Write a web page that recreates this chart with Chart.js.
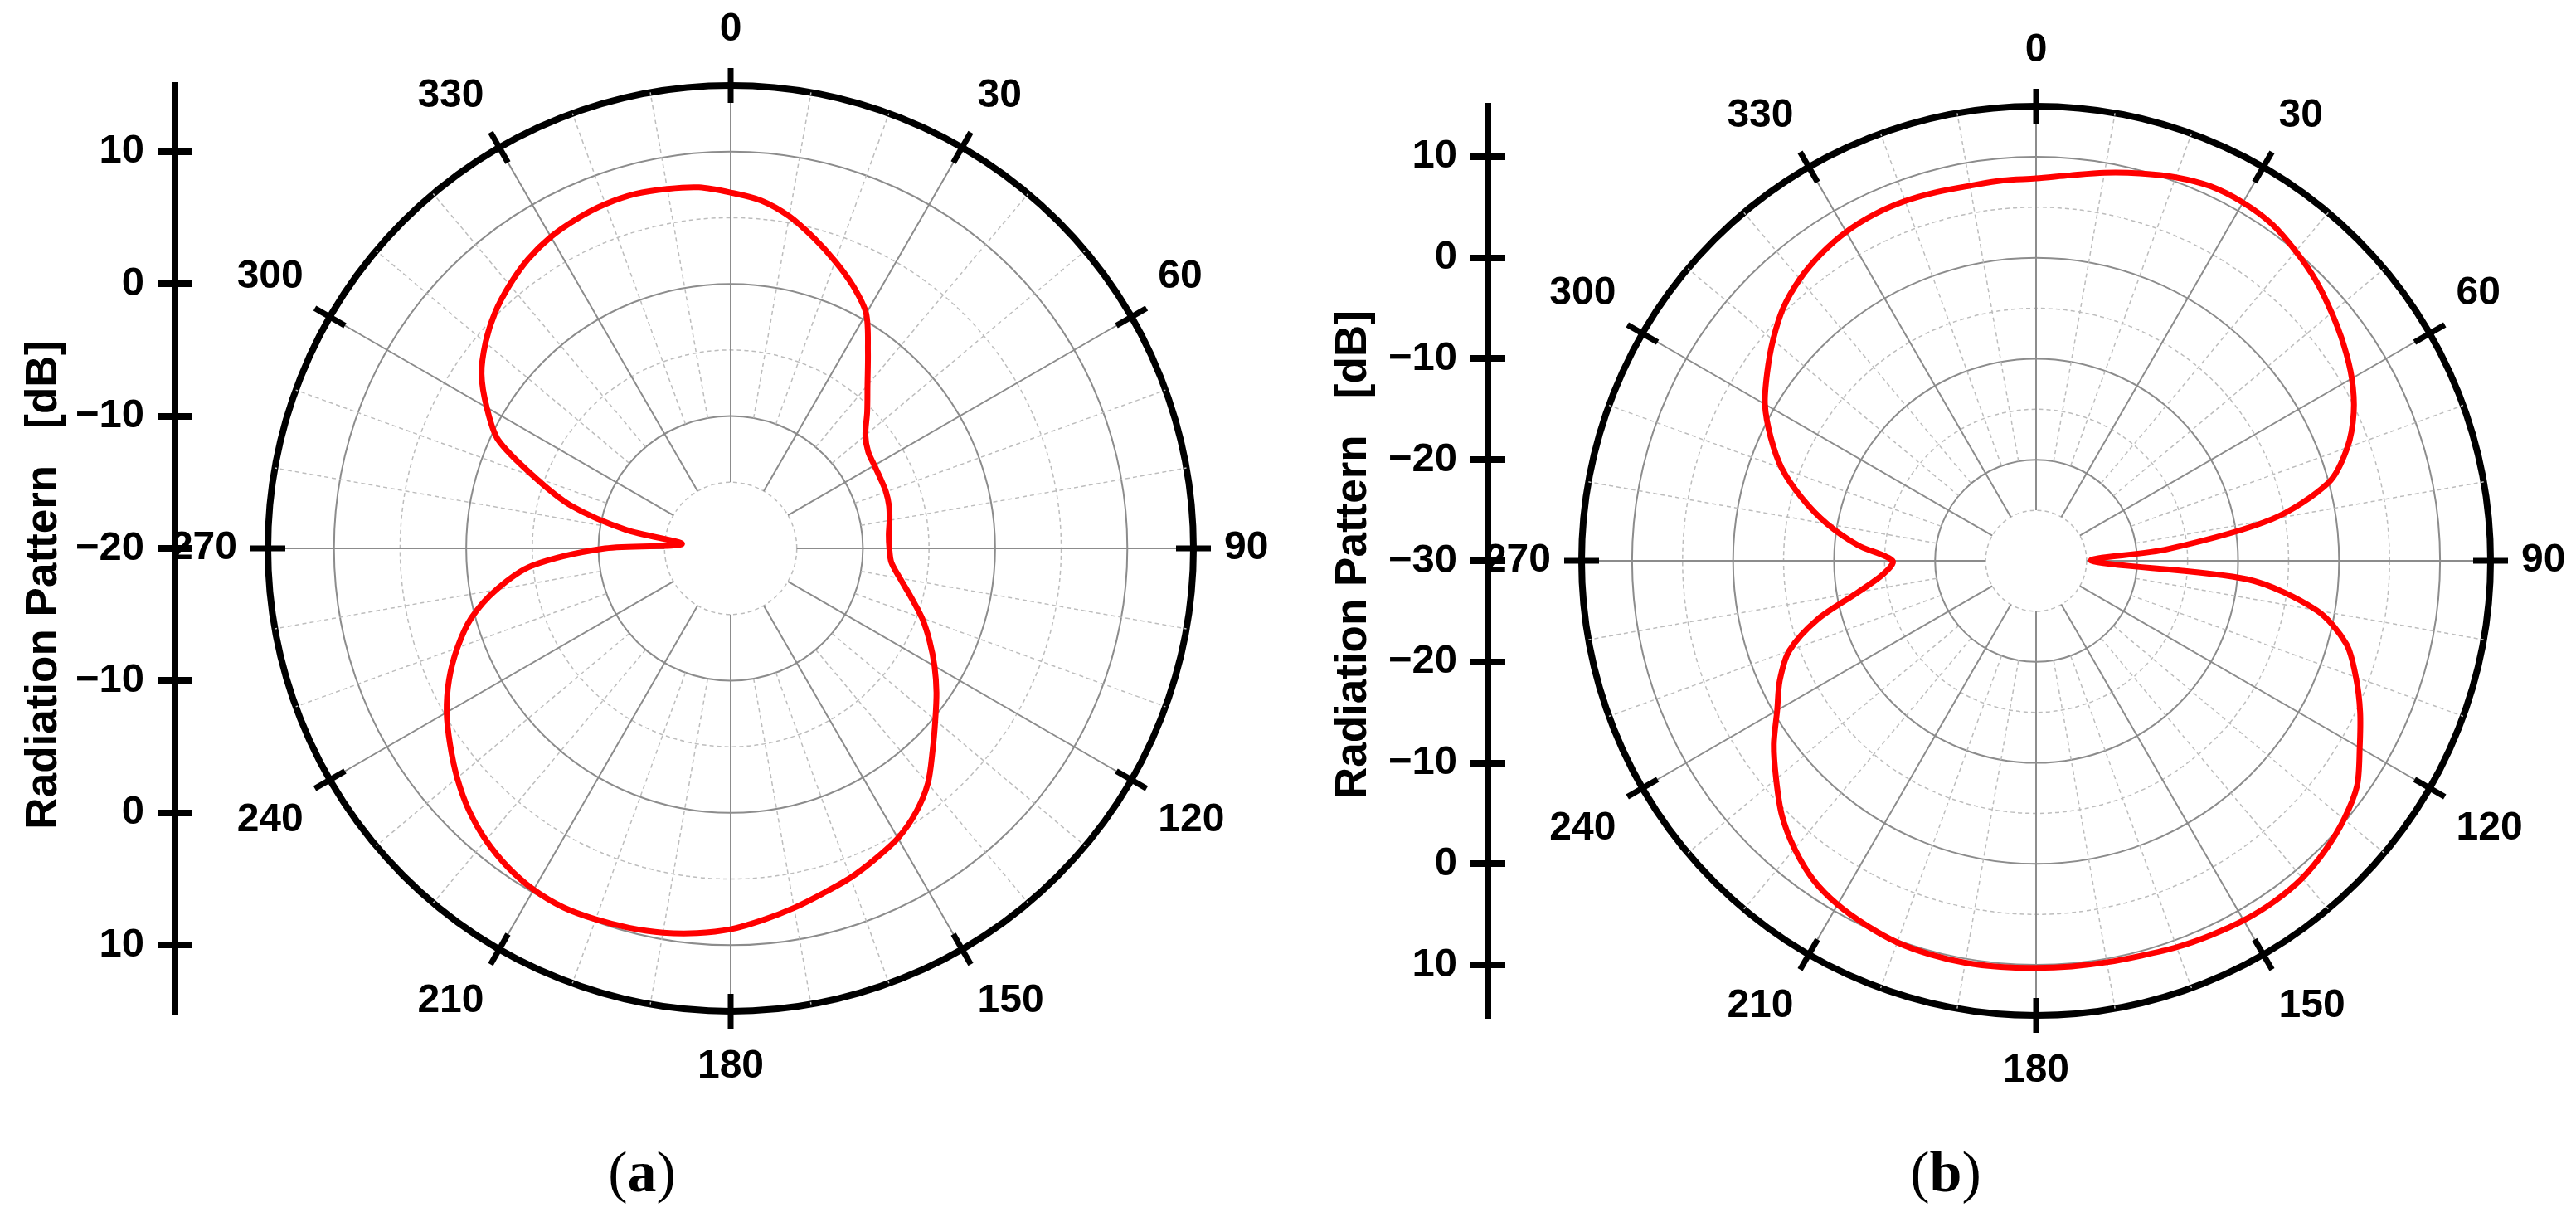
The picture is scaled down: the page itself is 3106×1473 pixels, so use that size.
<!DOCTYPE html>
<html>
<head>
<meta charset="utf-8">
<script src="https://cdn.jsdelivr.net/npm/chart.js@4.4.1/dist/chart.umd.min.js"></script>
<style>
  html, body { margin: 0; padding: 0; background: #fff; }
  body { width: 3106px; height: 1473px; position: relative; overflow: hidden; }
  canvas { position: absolute; }
  .cap { position: absolute; top: 1378px; width: 200px; text-align: center;
         font-family: 'Liberation Serif', 'Times New Roman', serif; font-size: 70px; line-height: 70px; }
</style>
</head>
<body>
<canvas id="axisA"></canvas>
<canvas id="polarA"></canvas>
<canvas id="axisB"></canvas>
<canvas id="polarB"></canvas>
<div class="cap" style="left:674px">(<b>a</b>)</div>
<div class="cap" style="left:2246px">(<b>b</b>)</div>
<script>
// angle of each sample, degrees clockwise from the top
const angles = [0, 5, 10, 15, 20, 25, 30, 35, 40, 45, 50, 55,
  60, 65, 70, 75, 80, 85, 90, 95, 100, 105, 110, 115,
  120, 125, 130, 135, 140, 145, 150, 155, 160, 165, 170, 175,
  180, 185, 190, 195, 200, 205, 210, 215, 220, 225, 230, 235,
  240, 245, 250, 255, 260, 265, 270, 275, 280, 285, 290, 295,
  300, 305, 310, 315, 320, 325, 330, 335, 340, 345, 350, 355];

// radiation pattern in dB, panel (a)
const patternA = [6.9, 6.4, 5.5, 4.3, 3.1, 1.9, 0.5, -1.9, -3.9, -5.4, -6.7, -7.3,
  -7.45, -7.5, -7.5, -7.6, -7.8, -8.0, -8.0, -7.8, -7.0, -5.9, -4.6, -3.4,
  -2.2, -1.0, 0.2, 1.6, 3.2, 4.4, 5.3, 5.9, 6.5, 7.0, 7.6, 8.2,
  8.8, 9.2, 9.5, 9.7, 9.85, 9.95, 9.8, 9.4, 8.8, 8.0, 7.0, 5.9,
  4.8, 3.5, 2.0, 0.3, -2.0, -4.9, -10.5, -16.3, -12.0, -7.5, -4.2, -0.6,
  1.3, 3.0, 4.2, 5.2, 6.0, 6.7, 7.2, 7.5, 7.7, 7.75, 7.6, 7.4];

// radiation pattern in dB, panel (b)
const patternB = [7.85, 8.3, 9.0, 9.7, 10.4, 10.9, 10.95, 10.7, 10.0, 9.2, 8.2, 7.2,
  6.1, 4.7, 2.8, 0.0, -6.3, -17.0, -24.5, -9.0, -1.8, 1.8, 3.7, 5.4,
  7.0, 8.8, 9.8, 10.5, 11.0, 11.15, 11.1, 10.9, 10.7, 10.45, 10.35, 10.3,
  10.3, 10.35, 10.4, 10.35, 10.2, 9.8, 9.3, 8.5, 7.2, 5.6, 3.6, 1.7,
  -0.4, -2.0, -4.0, -7.6, -12.1, -14.8, -15.8, -12.3, -9.0, -6.0, -3.2, -1.0,
  1.0, 2.5, 4.0, 5.4, 6.4, 7.1, 7.6, 7.85, 7.9, 7.8, 7.7, 7.8];

const angleTickLabels = ['0', '30', '60', '90', '120', '150', '180', '210', '240', '270', '300', '330'];

// the side axis is measured from the centre outwards in both directions
const axisTicksA = [-30, -20, -10, 0, 10, 20, 30];
const axisLabelsA = ['10', '0', '\u221210', '\u221220', '\u221210', '0', '10'];
const axisTicksB = [-40, -30, -20, -10, 0, 10, 20, 30, 40];
const axisLabelsB = ['10', '0', '\u221210', '\u221220', '\u221230', '\u221220', '\u221210', '0', '10'];

Chart.defaults.font.family = "'Liberation Sans', Arial, sans-serif";
Chart.defaults.color = '#000';

const LABEL_BOX = 97; // point label line height (60) + padding (37)

// black marks across the outer ring every 30 degrees
const outerTicks = {
  id: 'outerTicks',
  afterDatasetsDraw(chart) {
    const r = chart.scales.r;
    const ctx = chart.ctx;
    ctx.save();
    ctx.strokeStyle = '#000';
    ctx.lineWidth = 7;
    chart.data.labels.forEach((a, i) => {
      if (a % 30 !== 0) return;
      const p1 = r.getPointPosition(i, r.drawingArea - 21);
      const p2 = r.getPointPosition(i, r.drawingArea + 21);
      ctx.beginPath();
      ctx.moveTo(p1.x, p1.y);
      ctx.lineTo(p2.x, p2.y);
      ctx.stroke();
    });
    ctx.restore();
  }
};

function angleDash(c) {
  const s = c.scale;
  const a = angles[c.index];
  if (a % 30 === 0) {
    return [0, s.getDistanceFromCenterForValue(s.min + 5), 5000];
  }
  const start = s.getDistanceFromCenterForValue(s.min + 10);
  const dash = [0, start];
  for (let d = start; d < s.drawingArea + 10; d += 9) dash.push(5, 4);
  return dash;
}

function makePolar(id, values, rMin, rMax, cx, cy, R) {
  const el = document.getElementById(id);
  el.width = 1560;
  el.height = 2 * (R + LABEL_BOX);
  el.style.left = (cx - 780) + 'px';
  el.style.top = (cy - R - LABEL_BOX) + 'px';
  return new Chart(el, {
    type: 'radar',
    data: {
      labels: angles,
      datasets: [{
        data: values,
        borderColor: '#ff0000',
        borderWidth: 7,
        pointRadius: 0,
        pointHoverRadius: 0,
        fill: false,
        tension: 0.3
      }]
    },
    options: {
      responsive: false,
      animation: false,
      events: [],
      plugins: { legend: { display: false }, tooltip: { enabled: false } },
      scales: {
        r: {
          min: rMin,
          max: rMax,
          ticks: { stepSize: 5, display: false },
          grid: {
            circular: true,
            color: c => c.tick.value === c.scale.max ? '#000' : (c.tick.value % 10 === 0 ? '#8c8c8c' : '#bdbdbd'),
            lineWidth: c => c.tick.value === c.scale.min ? 0 : (c.tick.value === c.scale.max ? 8 : (c.tick.value % 10 === 0 ? 2 : 1.5))
          },
          border: {
            dash: c => (c.tick.value % 10 === 0 || c.tick.value === c.scale.max) ? [] : [5, 4]
          },
          angleLines: {
            color: c => angles[c.index] % 30 === 0 ? '#8c8c8c' : '#bdbdbd',
            lineWidth: c => angles[c.index] % 30 === 0 ? 2 : (angles[c.index] % 10 === 0 ? 1.5 : 0),
            borderDash: angleDash
          },
          pointLabels: {
            padding: 37,
            color: '#000',
            font: { size: 48, weight: 'bold', lineHeight: 1.25 },
            callback: (label, i) => label % 30 === 0 ? angleTickLabels[label / 30] : ''
          }
        }
      }
    },
    plugins: [outerTicks]
  });
}

function makeAxis(id, tickValues, tickLabels, half, left, axisX, cy, R, titleText, titlePad) {
  const el = document.getElementById(id);
  el.width = axisX - left + 21;
  el.height = 2 * R + 120;
  el.style.left = left + 'px';
  el.style.top = (cy - R - 60) + 'px';
  return new Chart(el, {
    type: 'scatter',
    data: { datasets: [] },
    options: {
      responsive: false,
      animation: false,
      events: [],
      layout: { padding: { top: 60, bottom: 60, left: 0, right: 0 } },
      plugins: { legend: { display: false }, tooltip: { enabled: false } },
      scales: {
        x: { display: false },
        y: {
          min: -half,
          max: half,
          afterBuildTicks: s => { s.ticks = tickValues.map(v => ({ value: v })); },
          afterFit: s => { s.width = axisX - left; },
          ticks: {
            autoSkip: false,
            padding: 16,
            color: '#000',
            font: { size: 49, weight: 'bold' },
            callback: (v, i) => tickLabels[i]
          },
          grid: { color: '#000', lineWidth: 8, tickLength: 21, drawOnChartArea: true },
          border: { display: true, color: '#000', width: 8 },
          title: {
            display: true,
            text: titleText,
            color: '#000',
            font: { size: 53, weight: 'bold', lineHeight: 1 },
            padding: { top: titlePad, bottom: 0 }
          }
        }
      }
    }
  });
}

makePolar('polarA', patternA, -20, 15, 881, 661, 558);
makeAxis('axisA', axisTicksA, axisLabelsA, 35, 0, 211, 661, 558, 'Radiation Pattern   [dB]      ', 27);
makePolar('polarB', patternB, -30, 15, 2455, 676, 548);
makeAxis('axisB', axisTicksB, axisLabelsB, 45, 1560, 1794, 676, 548, ' Radiation Pattern   [dB]', 46);
</script>
</body>
</html>
